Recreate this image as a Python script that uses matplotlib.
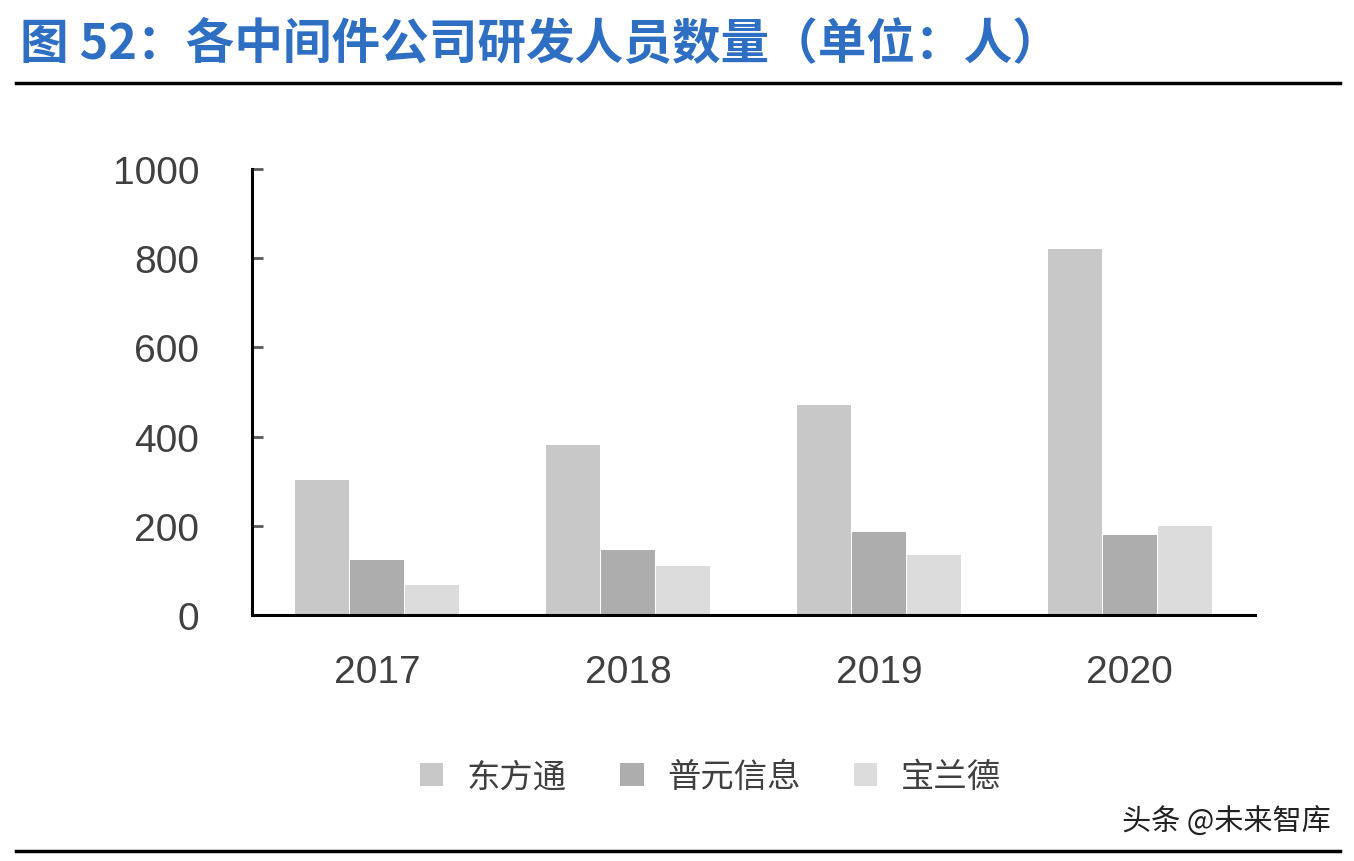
import matplotlib
matplotlib.use("Agg")
import matplotlib.pyplot as plt
import numpy as np
from matplotlib.lines import Line2D

years = ["2017", "2018", "2019", "2020"]
dongfangtong = [303, 382, 472, 820]
puyuan = [123, 147, 187, 181]
baolande = [68, 111, 134, 199]
series_names = ["东方通", "普元信息", "宝兰德"]
colors = ["#c8c8c8", "#adadad", "#dcdcdc"]

plt.rcParams['font.family'] = ['Liberation Sans', 'Noto Sans CJK SC', 'DejaVu Sans']
fig = plt.figure(figsize=(13.54, 8.62), dpi=100)
ax = fig.add_axes([0.186, 0.285, 0.741, 0.518])
x = np.arange(len(years))
w = 0.22
for i, (vals, c, n) in enumerate(zip([dongfangtong, puyuan, baolande], colors, series_names)):
    ax.bar(x + (i - 1) * w, vals, w * 0.98, color=c, label=n)
ax.set_xlim(-0.5, 3.5)
ax.set_ylim(0, 1000)
ax.set_yticks(range(0, 1001, 200))
ax.set_xticks(x)
ax.set_xticklabels(years)
for s in ["top", "right"]:
    ax.spines[s].set_visible(False)
for s in ["left", "bottom"]:
    ax.spines[s].set_linewidth(2.2)
    ax.spines[s].set_color("black")
ax.tick_params(axis="y", labelsize=28, colors="#595959", length=8, width=2, direction="in", pad=38)
ax.tick_params(axis="y", labelcolor="#404040")
ax.tick_params(axis="x", labelsize=28, labelcolor="#404040", length=0, pad=28)

leg = ax.legend(loc="upper center", bbox_to_anchor=(0.457, -0.255), ncol=3, frameon=False,
                prop={'family': ['Noto Sans CJK SC'], 'size': 24}, handlelength=0.7,
                handleheight=0.7, columnspacing=1.6, handletextpad=0.7)
for t in leg.get_texts():
    t.set_color("#404040")

fig.text(0.015, 0.948, "图 52：各中间件公司研发人员数量（单位：人）", fontsize=35, fontweight="bold",
         color="#2e6fc4", family=['Noto Sans CJK SC'], va="center")
fig.add_artist(Line2D([0.012, 0.99], [0.902, 0.902], color="black", lw=2.5))
fig.add_artist(Line2D([0.012, 0.99], [0.012, 0.012], color="black", lw=2.5))
fig.text(0.983, 0.046, "头条 @未来智库", fontsize=21, color="#222222", ha="right", va="center",
         family=['Noto Sans CJK SC'])
fig.savefig("out.png", dpi=100)
